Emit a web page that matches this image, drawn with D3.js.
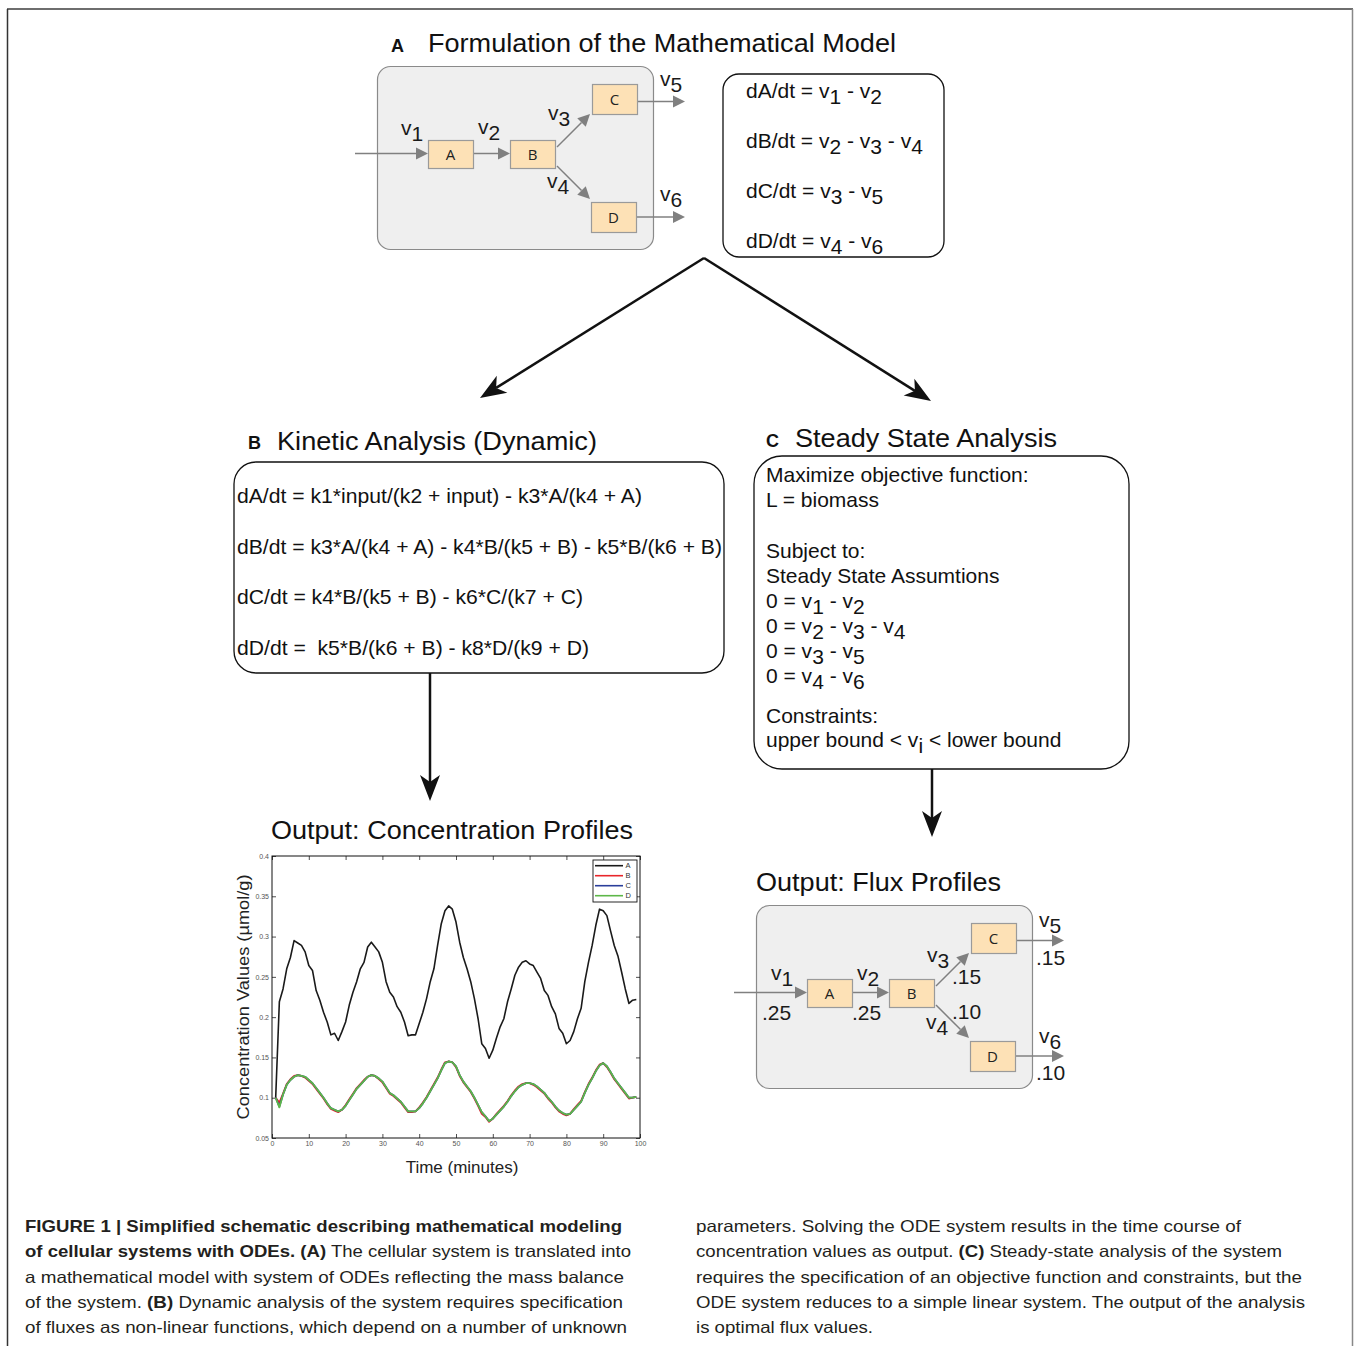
<!DOCTYPE html>
<html>
<head>
<meta charset="utf-8">
<script src="https://cdn.jsdelivr.net/npm/d3@7"></script>
<style>
  body { margin: 0; background: #fff; }
  svg { display: block; font-family: 'Liberation Sans', Arial, sans-serif; }
</style>
</head>
<body>
<div id="fig"></div>
<script>
// concentration profiles (time 1..99 minutes)
const seriesA = [0.100, 0.219, 0.235, 0.260, 0.274, 0.295, 0.292, 0.289, 0.281, 0.264,
  0.258, 0.233, 0.221, 0.206, 0.194, 0.178, 0.180, 0.171, 0.182, 0.194,
  0.215, 0.231, 0.244, 0.260, 0.268, 0.287, 0.293, 0.287, 0.281, 0.268,
  0.244, 0.231, 0.225, 0.213, 0.206, 0.194, 0.177, 0.178, 0.178, 0.192,
  0.206, 0.223, 0.244, 0.260, 0.289, 0.316, 0.332, 0.338, 0.334, 0.318,
  0.293, 0.274, 0.260, 0.244, 0.223, 0.198, 0.167, 0.161, 0.149, 0.159,
  0.174, 0.188, 0.198, 0.219, 0.235, 0.252, 0.262, 0.268, 0.270, 0.266,
  0.264, 0.256, 0.248, 0.233, 0.227, 0.213, 0.204, 0.186, 0.180, 0.167,
  0.171, 0.182, 0.198, 0.211, 0.244, 0.268, 0.289, 0.314, 0.334, 0.332,
  0.326, 0.307, 0.289, 0.276, 0.256, 0.235, 0.217, 0.221, 0.222];
const seriesB = [0.100, 0.094, 0.105, 0.117, 0.123, 0.127, 0.128, 0.127, 0.125, 0.121,
  0.117, 0.111, 0.105, 0.099, 0.092, 0.086, 0.084, 0.082, 0.085, 0.091,
  0.098, 0.105, 0.112, 0.117, 0.122, 0.126, 0.128, 0.127, 0.123, 0.119,
  0.112, 0.105, 0.102, 0.098, 0.094, 0.088, 0.082, 0.082, 0.083, 0.088,
  0.094, 0.101, 0.109, 0.117, 0.125, 0.135, 0.144, 0.145, 0.144, 0.138,
  0.127, 0.119, 0.113, 0.107, 0.099, 0.090, 0.080, 0.076, 0.070, 0.074,
  0.080, 0.085, 0.090, 0.096, 0.103, 0.109, 0.114, 0.117, 0.118, 0.118,
  0.116, 0.113, 0.109, 0.105, 0.099, 0.094, 0.088, 0.083, 0.080, 0.078,
  0.080, 0.086, 0.091, 0.096, 0.107, 0.117, 0.125, 0.134, 0.141, 0.143,
  0.138, 0.131, 0.123, 0.117, 0.111, 0.105, 0.099, 0.100, 0.101];
const seriesC = [0.100, 0.089, 0.104, 0.116, 0.122, 0.126, 0.128, 0.127, 0.126, 0.122,
  0.118, 0.112, 0.106, 0.100, 0.093, 0.087, 0.085, 0.083, 0.085, 0.090,
  0.097, 0.104, 0.111, 0.116, 0.121, 0.126, 0.128, 0.127, 0.124, 0.120,
  0.113, 0.106, 0.103, 0.099, 0.095, 0.089, 0.083, 0.083, 0.083, 0.087,
  0.093, 0.100, 0.108, 0.116, 0.124, 0.134, 0.143, 0.145, 0.144, 0.139,
  0.128, 0.120, 0.114, 0.108, 0.100, 0.091, 0.082, 0.077, 0.071, 0.074,
  0.079, 0.084, 0.089, 0.095, 0.102, 0.108, 0.113, 0.116, 0.118, 0.118,
  0.117, 0.114, 0.110, 0.106, 0.100, 0.095, 0.089, 0.084, 0.081, 0.079,
  0.080, 0.085, 0.090, 0.095, 0.106, 0.116, 0.124, 0.133, 0.140, 0.143,
  0.139, 0.132, 0.124, 0.118, 0.112, 0.106, 0.100, 0.100, 0.101];
const seriesD = [0.100, 0.088, 0.104, 0.116, 0.122, 0.126, 0.128, 0.127, 0.126, 0.122,
  0.118, 0.112, 0.106, 0.100, 0.093, 0.087, 0.085, 0.083, 0.085, 0.090,
  0.097, 0.104, 0.111, 0.116, 0.121, 0.126, 0.128, 0.127, 0.124, 0.120,
  0.113, 0.106, 0.103, 0.099, 0.095, 0.089, 0.083, 0.083, 0.083, 0.087,
  0.093, 0.100, 0.108, 0.116, 0.124, 0.134, 0.143, 0.145, 0.144, 0.139,
  0.128, 0.120, 0.114, 0.108, 0.100, 0.091, 0.082, 0.077, 0.071, 0.074,
  0.079, 0.084, 0.089, 0.095, 0.102, 0.108, 0.113, 0.116, 0.118, 0.118,
  0.117, 0.114, 0.110, 0.106, 0.100, 0.095, 0.089, 0.084, 0.081, 0.079,
  0.080, 0.085, 0.090, 0.095, 0.106, 0.116, 0.124, 0.133, 0.140, 0.143,
  0.139, 0.132, 0.124, 0.118, 0.112, 0.106, 0.100, 0.100, 0.101];

const seriesNames = ['A', 'B', 'C', 'D'];
const seriesColors = ['#1a1a1a', '#e8262b', '#2b3e9a', '#5db748'];
const xTicks = [0, 10, 20, 30, 40, 50, 60, 70, 80, 90, 100];
const yTicks = [0.05, 0.1, 0.15, 0.2, 0.25, 0.3, 0.35, 0.4];
const yTickLabels = ['0.05', '0.1', '0.15', '0.2', '0.25', '0.3', '0.35', '0.4'];

// steady state flux values
const fluxNames = ['v1', 'v2', 'v3', 'v4', 'v5', 'v6'];
const fluxValues = ['.25', '.25', '.15', '.10', '.15', '.10'];

const W = 1354, H = 1346;
const FS = 21; // body text size
const svg = d3.select('#fig').append('svg').attr('width', W).attr('height', H);

// outer frame
svg.append('line').attr('x1', 7).attr('y1', 9).attr('x2', 1353).attr('y2', 9)
  .attr('stroke', '#6e6e6e').attr('stroke-width', 2);
svg.append('line').attr('x1', 7.5).attr('y1', 9).attr('x2', 7.5).attr('y2', H)
  .attr('stroke', '#333').attr('stroke-width', 1.5);
svg.append('line').attr('x1', 1352.5).attr('y1', 9).attr('x2', 1352.5).attr('y2', H)
  .attr('stroke', '#888').attr('stroke-width', 1.5);

// text with _{sub} and §bold§ markup
function rich(g, x, y, s, size, opts = {}) {
  const t = g.append('text').attr('x', x).attr('y', y)
    .style('font-size', size + 'px').attr('fill', opts.fill || '#111');
  if (opts.family) t.style('font-family', opts.family);
  if (opts.anchor) t.attr('text-anchor', opts.anchor);
  const re = /_\{([^}]*)\}|§([^§]*)§|([^_§]+)/g;
  let m, down = false;
  const shift = Math.round(size * 0.27);
  while ((m = re.exec(s)) !== null) {
    if (m[1] !== undefined) {
      t.append('tspan').attr('dy', down ? 0 : shift).text(m[1]);
      down = true;
    } else {
      const sp = t.append('tspan').attr('dy', down ? -shift : 0).text(m[2] !== undefined ? m[2] : m[3]);
      if (m[2] !== undefined) sp.style('font-weight', 'bold');
      down = false;
    }
  }
  if (opts.len) t.attr('textLength', opts.len).attr('lengthAdjust', 'spacingAndGlyphs');
  return t;
}

// line with a head at (x2,y2)
function arrow(g, x1, y1, x2, y2, o) {
  const a = Math.atan2(y2 - y1, x2 - x1);
  const ux = Math.cos(a), uy = Math.sin(a), px = -uy, py = ux;
  const bx = x2 - ux * (o.len - o.notch), by = y2 - uy * (o.len - o.notch);
  g.append('line').attr('x1', x1).attr('y1', y1).attr('x2', bx).attr('y2', by)
    .attr('stroke', o.color).attr('stroke-width', o.width);
  const back = [x2 - ux * o.len, y2 - uy * o.len];
  const pts = [[x2, y2],
    [back[0] + px * o.half, back[1] + py * o.half],
    [bx, by],
    [back[0] - px * o.half, back[1] - py * o.half]];
  g.append('path').attr('d', 'M' + pts.map(p => p.join(',')).join('L') + 'Z').attr('fill', o.color);
}

const grayArrow = { len: 12, half: 6, notch: 0, color: '#808080', width: 1.5 };
const bigArrow = { len: 26, half: 10, notch: 7, color: '#111', width: 2.5 };

// pathway diagram, drawn at offset (dx,dy)
const nodes = [
  { id: 'A', x: 428, y: 140, w: 45, h: 28 },
  { id: 'B', x: 510, y: 140, w: 45, h: 28 },
  { id: 'C', x: 592, y: 84, w: 45, h: 30 },
  { id: 'D', x: 591, y: 202, w: 45, h: 30 }
];

function network(dx, dy, labels) {
  const g = svg.append('g').attr('transform', `translate(${dx},${dy})`);
  g.append('rect').attr('x', 377.5).attr('y', 66.5).attr('width', 276).attr('height', 183)
    .attr('rx', 13).attr('fill', '#efefef').attr('stroke', '#8a8a8a').attr('stroke-width', 1.2);
  arrow(g, 355, 153.5, 428, 153.5, grayArrow);
  arrow(g, 473, 153.5, 510, 153.5, grayArrow);
  arrow(g, 557, 147, 590, 114, grayArrow);
  arrow(g, 557, 166, 590, 199, grayArrow);
  arrow(g, 637, 101.5, 685, 101.5, grayArrow);
  arrow(g, 636, 217, 685, 217, grayArrow);
  const n = g.selectAll('.node').data(nodes).enter().append('g').attr('class', 'node');
  n.append('rect').attr('x', d => d.x + 0.5).attr('y', d => d.y + 0.5)
    .attr('width', d => d.w).attr('height', d => d.h)
    .attr('fill', '#fde1b6').attr('stroke', '#9a9a9a').attr('stroke-width', 1.2);
  n.append('text').attr('x', d => d.x + d.w / 2).attr('y', d => d.y + d.h / 2 + 5.5)
    .attr('text-anchor', 'middle').style('font-size', '15px').attr('fill', '#222')
    .style('font-family', "'Open Sans', sans-serif").text(d => d.id);
  labels.forEach(l => rich(svg, l.x, l.y, l.t, FS, { fill: '#1a1a1a' }));
}

const sub = s => s.replace(/v(\d)/g, 'v_{$1}');
network(0, 0, [
  { t: sub(fluxNames[0]), x: 401, y: 135 },
  { t: sub(fluxNames[1]), x: 478, y: 134 },
  { t: sub(fluxNames[2]), x: 548, y: 120 },
  { t: sub(fluxNames[3]), x: 547, y: 188 },
  { t: sub(fluxNames[4]), x: 660, y: 86 },
  { t: sub(fluxNames[5]), x: 660, y: 201 }
]);
network(379, 839, [
  { t: sub(fluxNames[0]), x: 771, y: 980 },
  { t: fluxValues[0], x: 762, y: 1020 },
  { t: sub(fluxNames[1]), x: 857, y: 980 },
  { t: fluxValues[1], x: 852, y: 1020 },
  { t: sub(fluxNames[2]), x: 927, y: 962 },
  { t: fluxValues[2], x: 952, y: 984 },
  { t: fluxValues[3], x: 952, y: 1019 },
  { t: sub(fluxNames[3]), x: 926, y: 1029 },
  { t: sub(fluxNames[4]), x: 1039, y: 927 },
  { t: fluxValues[4], x: 1036, y: 965 },
  { t: sub(fluxNames[5]), x: 1039, y: 1043 },
  { t: fluxValues[5], x: 1036, y: 1080 }
]);

// titles
rich(svg, 391, 52, '§A§', 18);
rich(svg, 428, 52, 'Formulation of the Mathematical Model', 25.5, { len: 468 });
rich(svg, 248, 449, '§B§', 18);
rich(svg, 277, 450, 'Kinetic Analysis (Dynamic)', 25.5, { len: 320 });
rich(svg, 766, 447, '§C§', 18);
rich(svg, 795, 447, 'Steady State Analysis', 25.5, { len: 262 });
rich(svg, 271, 839, 'Output: Concentration Profiles', 25, { len: 362 });
rich(svg, 756, 891, 'Output: Flux Profiles', 25, { len: 245 });

// equation boxes
function box(x, y, w, h, r) {
  svg.append('rect').attr('x', x).attr('y', y).attr('width', w).attr('height', h)
    .attr('rx', r).attr('fill', 'none').attr('stroke', '#111').attr('stroke-width', 1.3);
}
box(723, 74, 221, 183, 16);
['dA/dt = v_{1} - v_{2}', 'dB/dt = v_{2} - v_{3} - v_{4}', 'dC/dt = v_{3} - v_{5}', 'dD/dt = v_{4} - v_{6}']
  .forEach((s, i) => rich(svg, 746, 98 + i * 50, s, FS));

box(234, 462, 490, 211, 22);
[['dA/dt = k1*input/(k2 + input) - k3*A/(k4 + A)', 405],
 ['dB/dt = k3*A/(k4 + A) - k4*B/(k5 + B) - k5*B/(k6 + B)', 485],
 ['dC/dt = k4*B/(k5 + B) - k6*C/(k7 + C)', 346],
 ['dD/dt =  k5*B/(k6 + B) - k8*D/(k9 + D)', 352]]
  .forEach(([s, len], i) => rich(svg, 237, 503 + i * 50.5, s, FS, { len }).style('white-space', 'pre'));

box(754, 456, 375, 313, 28);
[['Maximize objective function:', 482], ['L = biomass', 507], ['Subject to:', 558],
 ['Steady State Assumtions', 583], ['0 = v_{1} - v_{2}', 608], ['0 = v_{2} - v_{3} - v_{4}', 633],
 ['0 = v_{3} - v_{5}', 658], ['0 = v_{4} - v_{6}', 683], ['Constraints:', 723],
 ['upper bound < v_{i} < lower bound', 747]]
  .forEach(([s, y]) => rich(svg, 766, y, s, FS));

// flow arrows
arrow(svg, 704, 258, 480, 398, bigArrow);
arrow(svg, 704, 258, 931, 401, bigArrow);
arrow(svg, 430, 673, 430, 801, bigArrow);
arrow(svg, 932, 769, 932, 837, bigArrow);

// concentration plot
const plot = { left: 272, right: 640, top: 856, bottom: 1138 };
const x = d3.scaleLinear().domain([0, 100]).range([plot.left, plot.right]);
const y = d3.scaleLinear().domain([0.05, 0.4]).range([plot.bottom, plot.top]);
const chart = svg.append('g');

const styleAxis = (sel) => {
  sel.select('.domain').remove();
  sel.selectAll('.tick line').attr('stroke', '#222').attr('stroke-width', 0.8);
  sel.selectAll('.tick text').style('font-size', '7px').attr('fill', '#555')
    .style('font-family', "'Liberation Sans', Arial, sans-serif");
};
chart.append('g').attr('transform', `translate(0,${plot.bottom})`)
  .call(d3.axisBottom(x).tickValues(xTicks).tickSize(-4).tickPadding(3)).call(styleAxis);
chart.append('g').attr('transform', `translate(0,${plot.top})`)
  .call(d3.axisTop(x).tickValues(xTicks).tickSize(-4).tickFormat('')).call(styleAxis);
chart.append('g').attr('transform', `translate(${plot.left},0)`)
  .call(d3.axisLeft(y).tickValues(yTicks).tickSize(-4).tickPadding(3)
    .tickFormat((d, i) => yTickLabels[i])).call(styleAxis);
chart.append('g').attr('transform', `translate(${plot.right},0)`)
  .call(d3.axisRight(y).tickValues(yTicks).tickSize(-4).tickFormat('')).call(styleAxis);
chart.append('rect').attr('x', plot.left).attr('y', plot.top)
  .attr('width', plot.right - plot.left).attr('height', plot.bottom - plot.top)
  .attr('fill', 'none').attr('stroke', '#111').attr('stroke-width', 1);

const times = d3.range(1, seriesA.length + 1);
const lineGen = d3.line().x((d, i) => x(times[i])).y(d => y(d));
[seriesA, seriesB, seriesC, seriesD].forEach((s, i) => {
  chart.append('path').datum(s).attr('d', lineGen).attr('fill', 'none')
    .attr('stroke', seriesColors[i]).attr('stroke-width', i === 0 ? 1.6 : 1.8)
    .attr('stroke-linejoin', 'round');
});

// legend
const leg = chart.append('g');
leg.append('rect').attr('x', 593).attr('y', 860).attr('width', 44).attr('height', 42)
  .attr('fill', '#fff').attr('stroke', '#111').attr('stroke-width', 0.9);
const li = leg.selectAll('.li').data(seriesNames).enter().append('g')
  .attr('transform', (d, i) => `translate(0,${865.7 + i * 10})`);
li.append('line').attr('x1', 595).attr('x2', 623).attr('stroke', (d, i) => seriesColors[i]).attr('stroke-width', 1.6);
li.append('text').attr('x', 625.5).attr('y', 2.5).style('font-size', '7.5px').attr('fill', '#333').text(d => d);

// axis labels
svg.append('text').attr('transform', 'translate(249,997) rotate(-90)').attr('text-anchor', 'middle')
  .style('font-size', '17px').attr('fill', '#222').text('Concentration Values (µmol/g)')
  .attr('textLength', 245).attr('lengthAdjust', 'spacingAndGlyphs');
svg.append('text').attr('x', 462).attr('y', 1173).attr('text-anchor', 'middle')
  .style('font-size', '17px').attr('fill', '#222').text('Time (minutes)');

// caption
const capFont = "'Liberation Sans Narrow', 'Liberation Sans', Arial, sans-serif";
const capLeft = [
  ['§FIGURE 1 | Simplified schematic describing mathematical modeling§', 597],
  ['§of cellular systems with ODEs. (A)§ The cellular system is translated into', 606],
  ['a mathematical model with system of ODEs reflecting the mass balance', 599],
  ['of the system. §(B)§ Dynamic analysis of the system requires specification', 598],
  ['of fluxes as non-linear functions, which depend on a number of unknown', 602]
];
const capRight = [
  ['parameters. Solving the ODE system results in the time course of', 545],
  ['concentration values as output. §(C)§ Steady-state analysis of the system', 586],
  ['requires the specification of an objective function and constraints, but the', 606],
  ['ODE system reduces to a simple linear system. The output of the analysis', 609],
  ['is optimal flux values.', 177]
];
capLeft.forEach(([s, len], i) => rich(svg, 25, 1232 + i * 25.3, s, 16.5, { family: capFont, fill: '#231f20', len }));
capRight.forEach(([s, len], i) => rich(svg, 696, 1232 + i * 25.3, s, 16.5, { family: capFont, fill: '#231f20', len }));
</script>
</body>
</html>
